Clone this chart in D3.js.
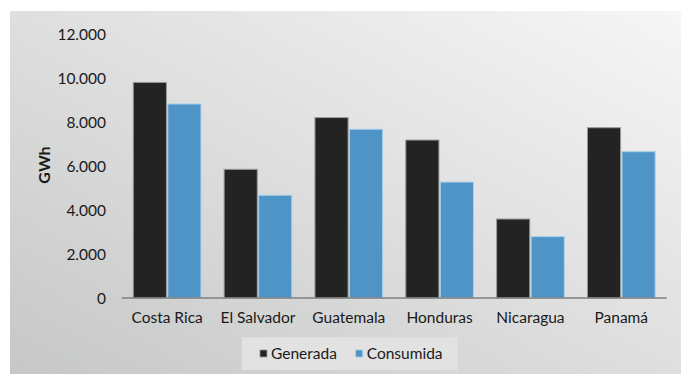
<!DOCTYPE html>
<html><head><meta charset="utf-8">
<script src="https://cdn.jsdelivr.net/npm/d3@7"></script>
<style>
html,body{margin:0;padding:0;background:#fff;}
svg{display:block;}
text{font-family:Lato, "Noto Sans", sans-serif;fill:#1a1a1a;}
</style></head>
<body>
<svg id="c" width="681" height="374"></svg>
<script>
const categories = ["Costa Rica","El Salvador","Guatemala","Honduras","Nicaragua","Panamá"];
const seriesNames = ["Generada","Consumida"];
const generada = [9800, 5850, 8200, 7180, 3590, 7740];
const consumida = [8820, 4670, 7670, 5270, 2790, 6650];
const yTicks = [0, 2000, 4000, 6000, 8000, 10000, 12000];
const tickLabels = ["0","2.000","4.000","6.000","8.000","10.000","12.000"];
const colors = ["#232323", "#4f94c7"];
const strokes = ["#9a9a9a", "#a9cfea"];

const svg = d3.select("#c");
const defs = svg.append("defs");
const g = defs.append("linearGradient").attr("id","bg")
  .attr("x1","1").attr("y1","0").attr("x2","0").attr("y2","1");
g.append("stop").attr("offset","0").attr("stop-color","#f6f6f6");
g.append("stop").attr("offset","1").attr("stop-color","#c6c7c7");
svg.append("rect").attr("x",10).attr("y",11).attr("width",671).attr("height",363).attr("fill","url(#bg)");

const x0 = d3.scaleBand().domain(categories).range([121.7, 666.7]).paddingInner(0.255).paddingOuter(0.1275);
const x1 = d3.scaleBand().domain(seriesNames).range([0, x0.bandwidth()]).paddingInner(0.04);
const y = d3.scaleLinear().domain([0, 12000]).range([298, 34]);

const data = categories.map((c,i)=>({c, vals:[generada[i], consumida[i]]}));
const grp = svg.append("g").selectAll("g").data(data).join("g")
  .attr("transform", d=>`translate(${x0(d.c)},0)`);
grp.selectAll("rect").data(d=>d.vals.map((v,j)=>({v, s:seriesNames[j], j})))
  .join("rect")
  .attr("x", d=>x1(d.s)).attr("width", x1.bandwidth())
  .attr("y", d=>y(d.v)).attr("height", d=>y(0)-y(d.v))
  .attr("fill", d=>colors[d.j]).attr("stroke", d=>strokes[d.j]).attr("stroke-width",1);

// axis line
svg.append("line").attr("x1",121.7).attr("x2",666.7).attr("y1",y(0)).attr("y2",y(0))
  .attr("stroke","#7f7f7f").attr("stroke-width",1.5);

// y ticks
const yAxis = d3.axisLeft(y).tickValues(yTicks).tickFormat((d,i)=>tickLabels[i]).tickSize(0).tickPadding(0);
const ya = svg.append("g").attr("transform","translate(106,0)").call(yAxis);
ya.select(".domain").remove();
ya.selectAll("text").attr("font-size",15.5).attr("font-family","Lato, sans-serif").attr("fill","#1a1a1a").attr("dy","0.35em");

// x labels
const xAxis = d3.axisBottom(x0).tickSize(0).tickPadding(0);
const xa = svg.append("g").attr("transform",`translate(0,${y(0)})`).call(xAxis);
xa.select(".domain").remove();
xa.selectAll("text").attr("font-size",15.5).attr("font-family","Lato, sans-serif").attr("fill","#1a1a1a").attr("y",25).attr("dy",0);

// y title
svg.append("text").attr("transform","translate(50,165) rotate(-90)")
  .attr("text-anchor","middle").attr("font-size",16).attr("font-weight","bold").text("GWh");

// legend
svg.append("rect").attr("x",241.7).attr("y",337.3).attr("width",216).attr("height",32.7).attr("fill","#e2e2e2");
const legX = [260, 355.7];
seriesNames.forEach((s,i)=>{
  svg.append("rect").attr("x",legX[i]).attr("y",350).attr("width",7).attr("height",7)
    .attr("fill",colors[i]).attr("stroke",strokes[i]).attr("stroke-width",0.8);
  svg.append("text").attr("x",legX[i]+11).attr("y",359).attr("font-size",15.5).text(s);
});
</script>
</body></html>
